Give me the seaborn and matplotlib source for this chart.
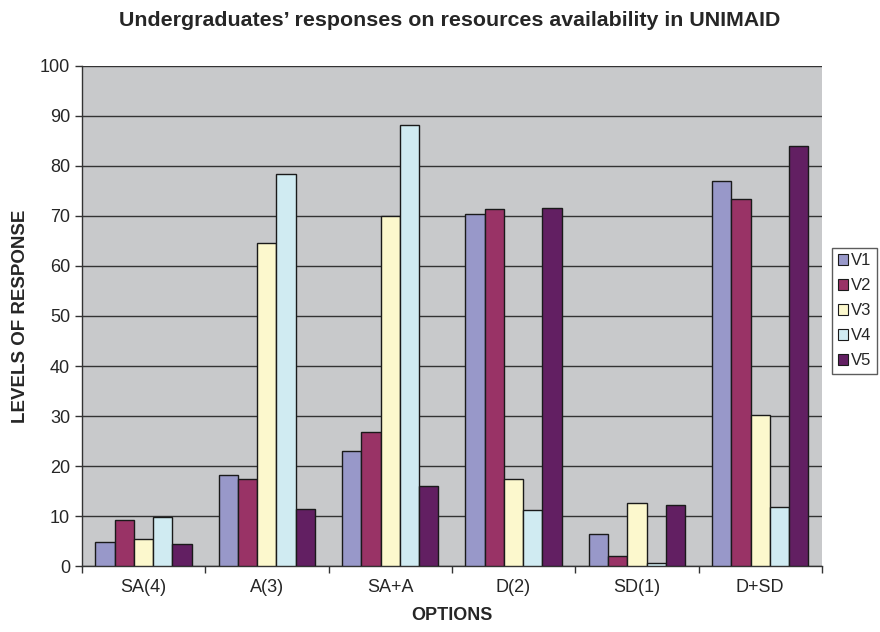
import numpy as np
import pandas as pd
import matplotlib
matplotlib.use("Agg")
import matplotlib.pyplot as plt
import seaborn as sns
from matplotlib.patches import Patch

# values
options = ['SA(4)', 'A(3)', 'SA+A', 'D(2)', 'SD(1)', 'D+SD']
series = ['V1', 'V2', 'V3', 'V4', 'V5']
v1 = [4.8, 18.3, 23.1, 70.4, 6.5, 77.0]
v2 = [9.3, 17.5, 26.8, 71.3, 2.0, 73.3]
v3 = [5.4, 64.5, 69.9, 17.5, 12.7, 30.2]
v4 = [9.9, 78.3, 88.2, 11.3, 0.6, 11.8]
v5 = [4.5, 11.5, 16.0, 71.5, 12.3, 84.0]
colors = ['#9898c9', '#993366', '#fcf8cd', '#d0ebf2', '#621f62']

# long format table for seaborn
rows = []
for name, vals in zip(series, [v1, v2, v3, v4, v5]):
    for opt, v in zip(options, vals):
        rows.append({'Option': opt, 'Series': name, 'Value': v})
df = pd.DataFrame(rows)

sns.set_style('white')
plt.rcParams['font.family'] = ['Liberation Sans', 'DejaVu Sans']

fig = plt.figure(figsize=(8.8, 6.32), dpi=100)
ax = fig.add_axes([0.093, 0.1044, 0.841, 0.7912])
ax.set_facecolor('#c8c9cb')

sns.barplot(data=df, x='Option', y='Value', hue='Series', order=options,
            hue_order=series, palette=colors, saturation=1, edgecolor='#1a1a1a',
            linewidth=1.0, width=0.78, ax=ax, legend=False, zorder=3)

ax.set_ylim(0, 100)
ax.set_xlim(-0.5, len(options) - 0.5)
ax.set_yticks(range(0, 101, 10))
ax.yaxis.grid(True, color='#333333', linewidth=1.0)
ax.set_axisbelow(True)

# category boundary ticks like the original
ax.set_xticks(np.arange(-0.5, len(options), 1.0), minor=True)
ax.tick_params(axis='x', which='major', length=0, pad=9, labelsize=13)
ax.tick_params(axis='x', which='minor', length=5, width=1, color='#333333', direction='out', bottom=True)
ax.tick_params(axis='y', length=5, width=1, color='#333333', direction='out', left=True, labelsize=13)

for s in ['top', 'right']:
    ax.spines[s].set_visible(False)
for s in ['left', 'bottom']:
    ax.spines[s].set_color('#333333')
    ax.spines[s].set_linewidth(1.0)

ax.set_xlabel('OPTIONS', fontsize=13, fontweight='bold', labelpad=8)
ax.set_ylabel('LEVELS OF RESPONSE', fontsize=13.5, fontweight='bold', labelpad=8)
fig.text(0.511, 0.967, 'Undergraduates\u2019 responses on resources availability in UNIMAID',
         ha='center', va='center', fontsize=15.4, fontweight='bold')

handles = [Patch(facecolor=c, edgecolor='#1a1a1a', linewidth=0.8) for c in colors]
leg = fig.legend(handles, series, loc='center left', bbox_to_anchor=(0.946, 0.508),
                 frameon=True, fancybox=False, fontsize=12, handlelength=0.6,
                 handleheight=0.6, handletextpad=0.15, borderpad=0.35, labelspacing=0.6,
                 borderaxespad=0)
leg.get_frame().set_edgecolor('#333333')
leg.get_frame().set_linewidth(1.0)

fig.savefig('out.png', dpi=100, facecolor='white')
